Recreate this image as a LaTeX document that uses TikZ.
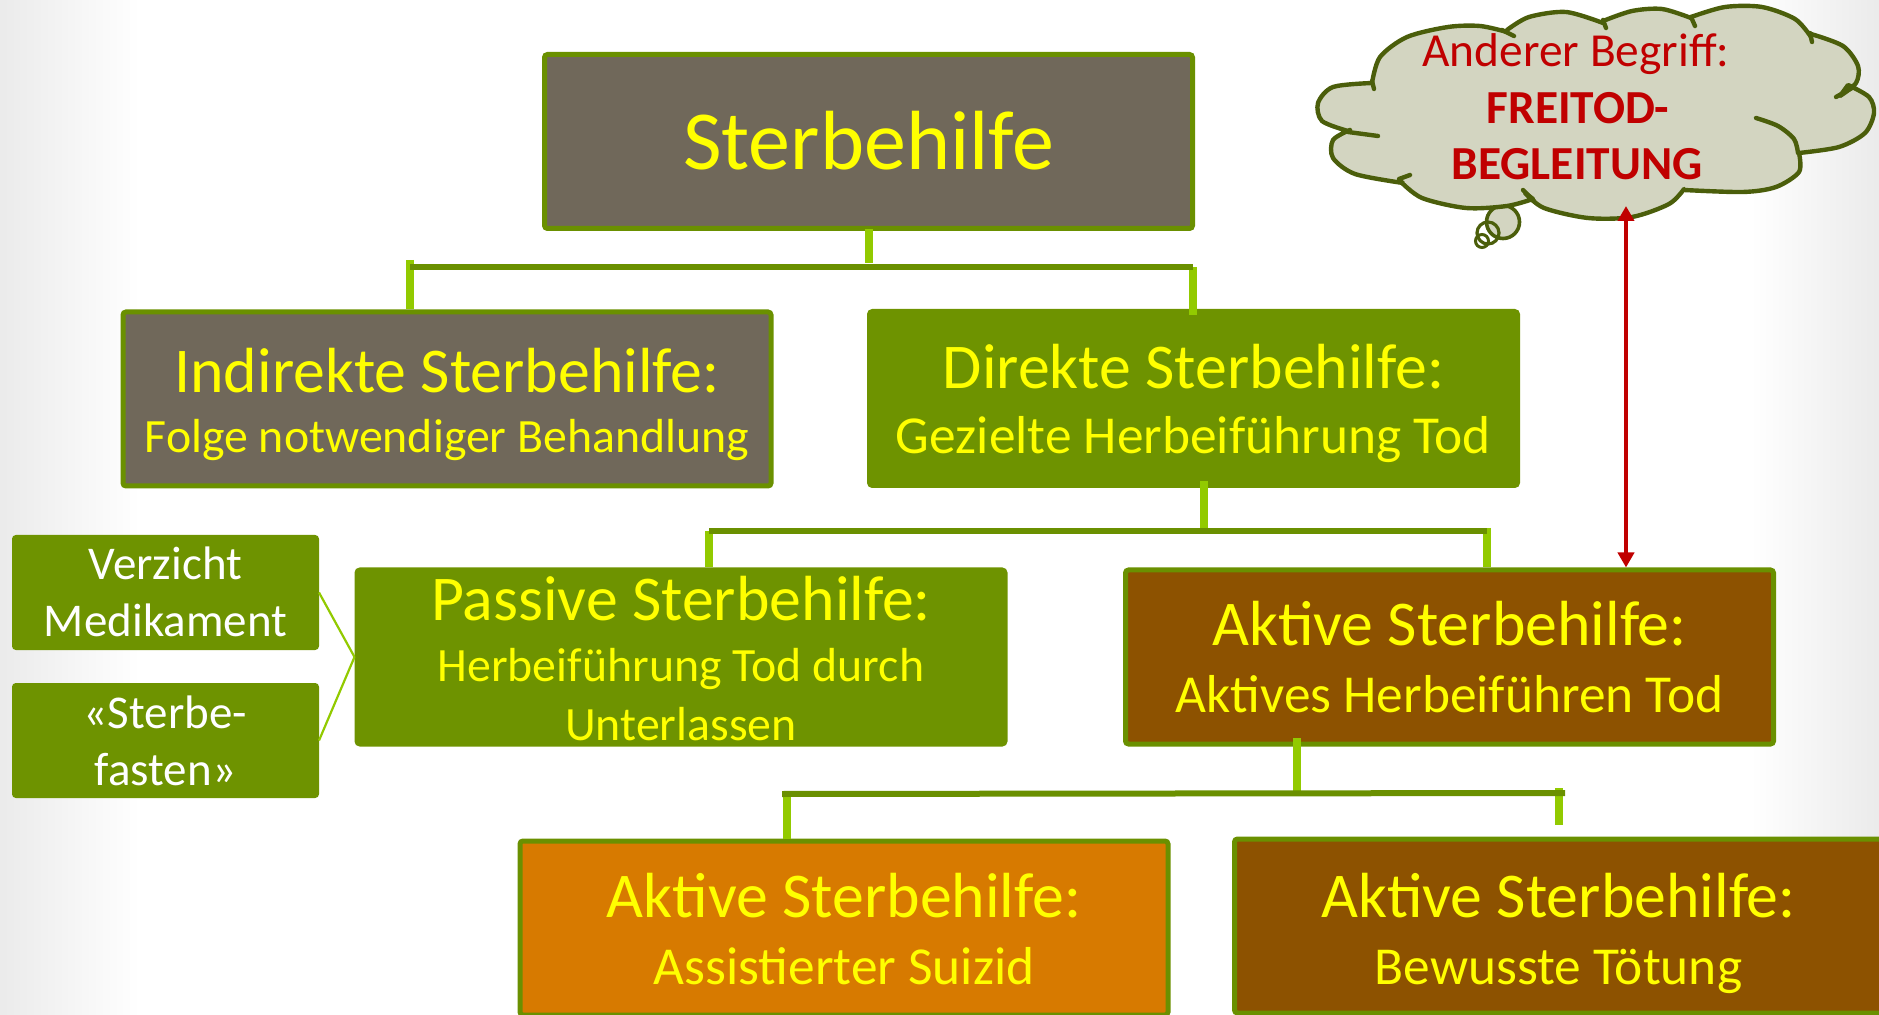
\documentclass[tikz,border=0pt]{standalone}
\usepackage{fontspec}
\setmainfont{Carlito}
\usetikzlibrary{arrows.meta,calc}
\definecolor{grn}{HTML}{6E9300}
\definecolor{grnb}{HTML}{6A9000}
\definecolor{lgrn}{HTML}{92CA00}
\definecolor{gbr}{HTML}{70685A}
\definecolor{brn}{HTML}{8D5200}
\definecolor{org}{HTML}{D77A00}
\definecolor{txty}{HTML}{FFFF00}
\definecolor{redc}{HTML}{C00000}
\definecolor{cloudf}{HTML}{D3D5C1}
\definecolor{cloudo}{HTML}{4B5E0B}
\begin{document}
\begin{tikzpicture}[x=0.5pt,y=-0.5pt,
  box/.style={draw=grnb, line width=2.5pt, rounded corners=1.5pt, minimum width=324pt, minimum height=87pt, inner sep=0pt},
  sbox/.style={draw=grn, fill=grn, line width=1pt, rounded corners=1.5pt, minimum width=152.5pt, minimum height=56.5pt, inner sep=0pt},
  titlet/.style={anchor=base, text=txty, inner sep=0pt, font=\fontsize{42}{48}\selectfont},
  bigt/.style={anchor=base, text=txty, inner sep=0pt, font=\fontsize{31.9}{36}\selectfont},
  smt/.style={anchor=base, text=txty, inner sep=0pt, font=\fontsize{23.9}{28}\selectfont},
  smtb/.style={anchor=base, text=txty, inner sep=0pt, font=\fontsize{26.7}{30}\selectfont},
  wt/.style={anchor=base, text=white, inner sep=0pt, font=\fontsize{23.5}{28}\selectfont},
  ct/.style={anchor=base, text=redc, inner sep=0pt, font=\fontsize{23.7}{28}\selectfont},
  ctb/.style={anchor=base, text=redc, inner sep=0pt, font=\fontsize{23.7}{28}\selectfont\bfseries},
  stub/.style={draw=lgrn, line width=4pt},
  bar/.style={draw=grnb, line width=3pt},
  thinl/.style={draw=lgrn, line width=1.1pt},
  cloudline/.style={draw=cloudo, line width=2.2pt, line cap=round, line join=round},
  redarr/.style={draw=redc, line width=2pt, {Triangle[length=7.5pt,width=8pt]}-{Triangle[length=7.5pt,width=8pt]}}
]
\useasboundingbox (0,0) rectangle (1879,1015);
\fill[left color=black!8, right color=white] (0,0) rectangle (140,1015);
\fill[left color=white, right color=black!8] (1750,0) rectangle (1879,1015);

% boxes
\node[box, fill=gbr] (root) at (868.5,141.5) {};
\node[titlet] (rootT) at (868.5,170) {Sterbehilfe};

\node[box, fill=gbr] (ind) at (447,399) {};
\node[bigt] (indT1) at (447,393) {Indirekte Sterbehilfe:};
\node[smt] (indT2) at (447,453) {Folge notwendiger Behandlung};

\node[box, fill=grn, draw=grn] (dir) at (1193.5,398.5) {};
\node[bigt] (dirT1) at (1193.5,389) {Direkte Sterbehilfe:};
\node[smtb] (dirT2) at (1193.5,454) {Gezielte Herbeiführung Tod};

\node[box, fill=grn, draw=grn] (pas) at (681,657) {};
\node[bigt] (pasT1) at (681,620) {Passive Sterbehilfe:};
\node[smt] (pasT2) at (681,682) {Herbeiführung Tod durch};
\node[smt] (pasT3) at (681,740) {Unterlassen};

\node[box, fill=brn] (akt) at (1449.5,657) {};
\node[bigt] (aktT1) at (1449.5,646) {Aktive Sterbehilfe:};
\node[smtb] (aktT2) at (1449.5,712) {Aktives Herbeiführen Tod};

\node[box, fill=org] (ass) at (844,928) {};
\node[bigt] (assT1) at (844,917) {Aktive Sterbehilfe:};
\node[smtb] (assT2) at (844,984) {Assistierter Suizid};

\node[box, fill=brn] (bew) at (1558.5,926) {};
\node[bigt] (bewT1) at (1558.5,917) {Aktive Sterbehilfe:};
\node[smtb] (bewT2) at (1558.5,984) {Bewusste Tötung};

\node[sbox] (verz) at (165.5,592.5) {};
\node[wt] (verzT1) at (165.5,580) {Verzicht};
\node[wt] (verzT2) at (165.5,637) {Medikament};

\node[sbox] (fast) at (165.5,740.5) {};
\node[wt] (fastT1) at (165.5,728) {«Sterbe-};
\node[wt] (fastT2) at (165.5,785) {fasten»};

% bracket 1
\coordinate (b1L) at (410,267);
\coordinate (b1R) at (1193,267);
\draw[stub] ([yshift=1pt]root.south) -- ($(root.south |- b1L)+(0,-4)$);
\draw[stub] ($(b1L)+(0,-7)$) -- (b1L |- ind.north);
\draw[stub] (b1R) -- ($(b1R |- dir.north)+(0,6)$);
\draw[bar] (b1L) -- (b1R);

% bracket 2
\coordinate (b2L) at (709,531);
\coordinate (b2R) at (1487,531);
\draw[stub] ([xshift=5pt,yshift=3.5pt]dir.south) -- ($([xshift=5pt]dir.south |- b2L)+(0,-2)$);
\draw[stub] (b2L) -- (b2L |- pas.north);
\draw[stub] ($(b2R)+(0,-3)$) -- (b2R |- akt.north);
\draw[bar] (b2L) -- (b2R);

% bracket 3
\coordinate (b3L) at (782,794);
\coordinate (b3R) at (1565,793);
\coordinate (s3) at (1297,738);
\coordinate (s3r) at (1559,788);
\coordinate (s3l) at (787,794);
\draw[stub] (s3) -- ($(s3 |- b3L)+(0,-3)$);
\draw[stub] (s3l) -- (s3l |- ass.north);
\draw[stub] (s3r) -- ($(s3r)+(0,37)$);
\draw[bar] (b3L) -- (b3R);

% small boxes to passive
\draw[thinl] (verz.east) -- (pas.west);
\draw[thinl] (fast.east) -- (pas.west);

% thought bubbles and cloud
\node[circle, draw=cloudo, fill=cloudf, line width=1.8pt, minimum size=16.5pt, inner sep=0pt] (bub1) at (1503,222) {};
\path[cloudline, fill=cloudf]
  plot[smooth] coordinates {(1372,83) (1380,57) (1407,37) (1448,27) (1480,26) (1507,32)}
  -- plot[smooth] coordinates {(1507,30) (1529,17) (1566,12) (1603,23)}
  -- plot[smooth] coordinates {(1603,21) (1632,11) (1662,9) (1691,18)}
  -- plot[smooth] coordinates {(1691,17) (1725,7) (1762,7) (1795,19) (1811,37)}
  -- plot[smooth] coordinates {(1811,34) (1843,46) (1858,66) (1856,83) (1840,96)}
  -- plot[smooth] coordinates {(1848,85) (1869,97) (1874,113) (1865,133) (1839,147) (1799,153)}
  -- plot[smooth] coordinates {(1799,153) (1799,172) (1776,187) (1743,192) (1684,190)}
  -- plot[smooth] coordinates {(1684,189) (1669,204) (1632,217) (1588,218) (1544,208) (1525,193)}
  -- plot[smooth] coordinates {(1533,199) (1507,206) (1466,208) (1422,198) (1400,181)}
  -- plot[smooth] coordinates {(1403,183) (1355,174) (1333,158) (1333,140) (1350,130)}
  -- plot[smooth] coordinates {(1348,131) (1322,121) (1318,103) (1333,87) (1372,83)}
  -- cycle;
\coordinate (cl) at (1595,114);
\draw[cloudline] (1372,81) -- (1374,89);
\draw[cloudline] (1502,30) -- (1514,36);
\draw[cloudline] (1603,20) -- (1606,28);
\draw[cloudline] (1691,17) -- (1695,26);
\draw[cloudline] (1810,33) -- (1812,42);
\draw[cloudline] (1836,97) -- (1852,88);
\draw[cloudline] plot[smooth] coordinates {(1756,118) (1778,126) (1794,139) (1798,153)};
\draw[cloudline] (1523,190) -- (1534,201);
\draw[cloudline] (1399,179) -- (1410,175);
\draw[cloudline] (1348,132) -- (1378,136);
\node[circle, draw=cloudo, line width=1.6pt, minimum size=11pt, inner sep=0pt] (bub2) at (1488,233) {};
\node[circle, draw=cloudo, line width=1.5pt, minimum size=6.5pt, inner sep=0pt] (bub3) at (1482,241) {};
\node[ct] (clT1) at (1576,67) {Anderer Begriff:};
\node[ctb] (clT2) at (1578,124) {FREITOD-};
\node[ctb] (clT3) at (1577,180) {BEGLEITUNG};

% red arrow
\coordinate (rt) at (1626,206);
\draw[redarr] (rt) -- (rt |- akt.north);
\end{tikzpicture}
\end{document}
